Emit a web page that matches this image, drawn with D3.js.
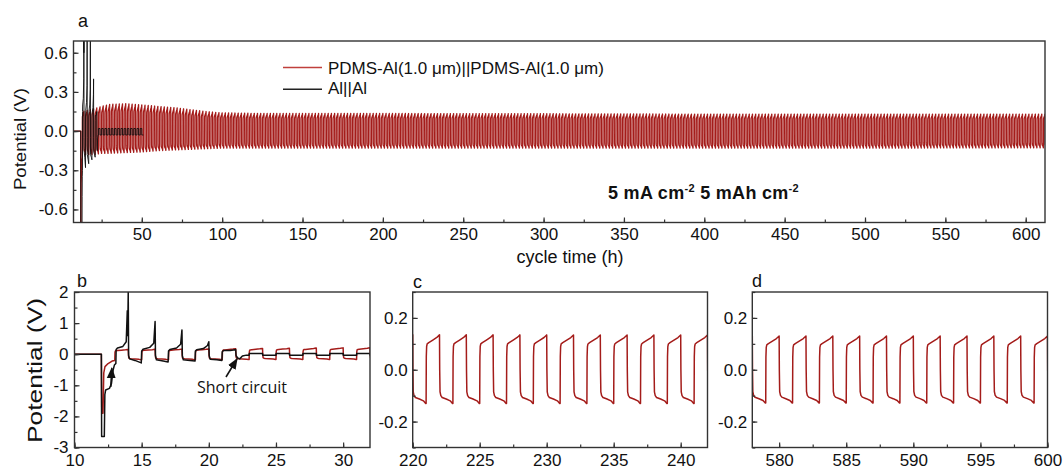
<!DOCTYPE html>
<html><head><meta charset="utf-8">
<script src="https://cdn.jsdelivr.net/npm/d3@7"></script>
<style>
body{margin:0;background:#fff}
svg text{font-family:"Liberation Sans",Arial,sans-serif;fill:#111}
</style>
</head><body>
<svg id="chart" width="1064" height="470"></svg>
<script>
// ---------------- DATA ----------------
// Al||Al cell, first hours (time h, potential V)
const blackEarly = [
  [0,0],[12.0,0],[12.02,-2.65],[12.22,-2.65],[12.26,-1.3],[12.32,-1.15],[12.6,-1.1],[12.75,-0.95],
  [12.88,-0.5],[12.97,-0.35],[13.08,-0.3],[13.1,0.15],[13.2,0.2],[13.6,0.25],[13.85,0.4],[13.93,1.4],
  [13.96,0.6],[14.0,2.0],[14.03,-0.05],[14.1,-0.15],[14.5,-0.2],[14.97,-0.28],[15.0,0.1],[15.1,0.16],
  [15.6,0.22],[15.9,0.35],[16.0,1.05],[16.03,-0.05],[16.1,-0.18],[16.6,-0.22],[16.97,-0.25],[17.0,0.1],
  [17.1,0.15],[17.6,0.2],[17.9,0.32],[18.0,0.78],[18.03,-0.05],[18.1,-0.18],[18.6,-0.2],[18.97,-0.22],
  [19.0,0.1],[19.1,0.14],[19.6,0.18],[19.9,0.28],[20.0,0.4],[20.03,-0.05],[20.1,-0.16],[20.6,-0.18],
  [20.97,-0.2],[21.0,0.08],[21.1,0.12],[21.6,0.12],[21.95,0.14],[22.0,0.15],[22.03,-0.05],[22.15,-0.12],
  [22.3,-0.15],[22.5,-0.06],[22.8,-0.03],[23.0,-0.03]
];
// Al||Al after short circuit: charge start (h), plateau levels (V)
const blackShortStart = [23,25,27,29,31,33,35,37,39,41,43,45,47,49];
const blackShortHigh  = [0.02,0.02,0.02,0.02,0.02,0.02,0.02,0.02,0.02,0.02,0.02,0.02,0.02,0.02];
const blackShortLow   = [-0.03,-0.03,-0.03,-0.03,-0.03,-0.03,-0.03,-0.03,-0.03,-0.03,-0.03,-0.03,-0.03,-0.03];

// PDMS-Al cell, first hours
const redEarly = [[0,0],[12.0,0],[12.03,-1.9],[12.12,-1.9],[12.18,-0.6],[12.27,-0.4],[12.5,-0.3],[12.8,-0.22],[13.0,-0.2]];
// one 2 h cycle (hours after charge start, V)
const cycleTau = [0, 0.015, 0.04, 0.08, 0.2, 0.5, 0.8, 0.98, 1.0, 1.015, 1.04, 1.1, 1.2, 1.5, 1.8, 1.97];
const cyclePot = [-0.13, 0.05, 0.09, 0.1, 0.105, 0.115, 0.125, 0.134, 0.135, 0.0, -0.085, -0.1, -0.107, -0.113, -0.12, -0.13];
// envelope of the PDMS-Al oscillation (end of charge / end of discharge)
const envTime = [13, 20, 25, 30, 40, 50, 60, 70, 80, 90, 100, 125, 150, 200, 300, 400, 500, 612];
const envHigh = [0.15, 0.17, 0.19, 0.205, 0.21, 0.2, 0.19, 0.18, 0.165, 0.15, 0.14, 0.135, 0.135, 0.135, 0.133, 0.13, 0.13, 0.13];
const envLow  = [-0.18, -0.18, -0.17, -0.17, -0.165, -0.16, -0.15, -0.145, -0.14, -0.135, -0.13, -0.13, -0.13, -0.13, -0.13, -0.13, -0.13, -0.128];
const redCycleStarts = d3.range(13, 612, 2); // charge begins every odd hour

// ticks
const aXTicks = [50,100,150,200,250,300,350,400,450,500,550,600];
const aXMinor = d3.range(25, 612, 25);
const aYTicks = [-0.6,-0.3,0,0.3,0.6];
const aYMinor = [-0.6,-0.45,-0.3,-0.15,0,0.15,0.3,0.45,0.6];
const bXTicks = [10,15,20,25,30];
const bXMinor = d3.range(10, 32.01, 2.5);
const bYTicks = [-3,-2,-1,0,1,2];
const bYMinor = d3.range(-3, 2.01, 0.5);
const cXTicks = [220,225,230,235,240];
const cXMinor = d3.range(220, 242.01, 2.5);
const dXTicks = [580,585,590,595,600];
const dXMinor = d3.range(580, 600.01, 2.5);
const cdYTicks = [-0.2,0,0.2];
const cdYMinor = [-0.3,-0.2,-0.1,0,0.1,0.2,0.3];

const legendLabels = ["PDMS-Al(1.0 μm)||PDMS-Al(1.0 μm)", "Al||Al"];

// ---------------- BUILD SERIES ----------------
const hiScale = d3.scaleLinear().domain(envTime).range(envHigh).clamp(true);
const loScale = d3.scaleLinear().domain(envTime).range(envLow).clamp(true);
const redSeries = redEarly.slice();
redCycleStarts.forEach(t0 => {
  const kh = hiScale(t0 + 1) / 0.135, kl = loScale(t0 + 2) / -0.13;
  cycleTau.forEach((tau, i) => {
    const v = cyclePot[i];
    redSeries.push([t0 + tau, v >= 0 ? v * kh : v * kl]);
  });
});
const blackSeries = blackEarly.slice();
blackShortStart.forEach((t0, i) => {
  blackSeries.push([t0, blackShortLow[i]], [t0 + 0.01, blackShortHigh[i]], [t0 + 1, blackShortHigh[i]],
                   [t0 + 1.01, blackShortLow[i]], [t0 + 2, blackShortLow[i]]);
});

// ---------------- DRAW ----------------
const RED = "#a41c1a", BLACK = "#111", FRAME = "#333";
const svg = d3.select("#chart");
const defs = svg.append("defs");
let clipId = 0;

function panel(o) {
  const w = o.x1 - o.x0, h = o.y1 - o.y0;
  const x = d3.scaleLinear().domain(o.xd).range([0, w]);
  const y = d3.scaleLinear().domain(o.yd).range([h, 0]);
  const g = svg.append("g").attr("transform", `translate(${o.x0},${o.y0})`);
  const id = "clip" + (clipId++);
  defs.append("clipPath").attr("id", id).append("rect").attr("width", w).attr("height", h);
  const plot = g.append("g").attr("clip-path", `url(#${id})`);
  const line = d3.line().x(d => x(d[0])).y(d => y(d[1]));
  o.series.forEach(s => {
    plot.append("path").datum(s.data).attr("d", line).attr("fill", "none")
      .attr("stroke", s.color).attr("stroke-width", s.width).attr("stroke-linejoin", "round");
  });
  const styleAxis = sel => {
    sel.attr("font-size", o.fs).attr("font-family", '"Liberation Sans",Arial,sans-serif').attr("color", FRAME);
    sel.select(".domain").remove();
    sel.selectAll("line").attr("stroke-width", 1.2);
    sel.selectAll("text").style("fill", "#111");
  };
  g.append("g").attr("transform", `translate(0,${h})`)
    .call(d3.axisBottom(x).tickValues(o.xMinor).tickSize(-3).tickFormat("")).call(styleAxis);
  g.append("g").attr("transform", `translate(0,${h})`)
    .call(d3.axisBottom(x).tickValues(o.xTicks).tickSize(-5).tickPadding(o.padX).tickFormat(o.fx)).call(styleAxis);
  g.append("g").call(d3.axisLeft(y).tickValues(o.yMinor).tickSize(-3).tickFormat("")).call(styleAxis);
  g.append("g").call(d3.axisLeft(y).tickValues(o.yTicks).tickSize(-5).tickPadding(o.padY).tickFormat(o.fy)).call(styleAxis);
  g.append("rect").attr("width", w).attr("height", h).attr("fill", "none")
    .attr("stroke", FRAME).attr("stroke-width", 1.4);
  return {g, x, y, w, h};
}

const fInt = d => String(d);
const f1 = d => (Math.abs(d) < 1e-9 ? 0 : d).toFixed(1);

// panel a
const pa = panel({x0: 73.5, x1: 1045, y0: 41, y1: 222.5, xd: [7.5, 612], yd: [-0.7, 0.69],
  xTicks: aXTicks, xMinor: aXMinor, yTicks: aYTicks, yMinor: aYMinor, fx: fInt, fy: f1, padX: 5.5, padY: 5.5, fs: 17,
  series: [{data: redSeries, color: RED, width: 1.3}, {data: blackSeries, color: BLACK, width: 0.9}]});
// panel b
const pb = panel({x0: 74.5, x1: 370, y0: 292, y1: 447.5, xd: [10, 32], yd: [-3, 2],
  xTicks: bXTicks, xMinor: bXMinor, yTicks: bYTicks, yMinor: bYMinor, fx: fInt, fy: fInt, padX: 6.5, padY: 6, fs: 17,
  series: [{data: redSeries, color: RED, width: 1.5}, {data: blackSeries, color: BLACK, width: 1.5}]});
// panel c
const pc = panel({x0: 412.7, x1: 707.5, y0: 292, y1: 447.5, xd: [220, 242], yd: [-0.3, 0.3],
  xTicks: cXTicks, xMinor: cXMinor, yTicks: cdYTicks, yMinor: cdYMinor, fx: fInt, fy: f1, padX: 6.5, padY: 5, fs: 17,
  series: [{data: redSeries, color: RED, width: 1.5}]});
// panel d
const pd = panel({x0: 752.3, x1: 1047.5, y0: 292, y1: 447.5, xd: [578, 600], yd: [-0.3, 0.3],
  xTicks: dXTicks, xMinor: dXMinor, yTicks: cdYTicks, yMinor: cdYMinor, fx: fInt, fy: f1, padX: 6.5, padY: 5, fs: 17,
  series: [{data: redSeries, color: RED, width: 1.5}]});

// panel letters
[["a", 78, 26.5], ["b", 77, 286.5], ["c", 413, 288], ["d", 752, 287]].forEach(([t, x, y]) => {
  svg.append("text").attr("x", x).attr("y", y).attr("font-size", 18).text(t);
});

// axis titles
svg.append("text").attr("transform", "translate(26,139) rotate(-90)").attr("text-anchor", "middle")
  .attr("font-size", 16).attr("textLength", 102).attr("lengthAdjust", "spacingAndGlyphs").text("Potential (V)");
svg.append("text").attr("transform", "translate(42,370.5) rotate(-90)").attr("text-anchor", "middle")
  .attr("font-size", 21).attr("textLength", 145).attr("lengthAdjust", "spacingAndGlyphs").text("Potential (V)");
svg.append("text").attr("x", 570).attr("y", 263).attr("text-anchor", "middle").attr("font-size", 18).text("cycle time (h)");

// legend
const lg = svg.append("g");
[["#c0403c", 67.5, 73.5], ["#222", 89.3, 93.5]].forEach(([c, ly, ty], i) => {
  lg.append("line").attr("x1", 283).attr("x2", 322).attr("y1", ly).attr("y2", ly).attr("stroke", c).attr("stroke-width", 1.5);
  lg.append("text").attr("x", 328).attr("y", ty).attr("font-size", 17).text(legendLabels[i]);
});

// condition annotation
const ann = svg.append("text").attr("x", 608).attr("y", 199).attr("font-size", 18).attr("font-weight", "bold")
  .attr("letter-spacing", 0.3);
ann.append("tspan").text("5 mA cm");
ann.append("tspan").attr("dy", -7).attr("font-size", 11).text("-2");
ann.append("tspan").attr("dy", 7).text(" 5 mAh cm");
ann.append("tspan").attr("dy", -7).attr("font-size", 11).text("-2");

// short circuit annotation (panel b)
defs.append("marker").attr("id", "ah").attr("viewBox", "0 0 10 10").attr("refX", 9).attr("refY", 5)
  .attr("markerWidth", 7).attr("markerHeight", 7).attr("orient", "auto-start-reverse")
  .append("path").attr("d", "M0,1 L10,5 L0,9 z").attr("fill", "#111");
const bx = pb.x, by = pb.y;
svg.append("text").attr("x", 197).attr("y", 392.5).attr("font-size", 16)
  .style("font-family", '"Open Sans",sans-serif').text("Short circuit");
svg.append("line").attr("x1", 226).attr("y1", 377).attr("x2", 74.5 + bx(22.1)).attr("y2", 292 + by(-0.15))
  .attr("stroke", "#111").attr("stroke-width", 1.6).attr("marker-end", "url(#ah)");
svg.append("line").attr("x1", 74.5 + bx(12.7)).attr("y1", 292 + by(-1.05)).attr("x2", 74.5 + bx(12.78)).attr("y2", 292 + by(-0.45))
  .attr("stroke", "#111").attr("stroke-width", 1.6).attr("marker-end", "url(#ah)");
</script>
</body></html>
